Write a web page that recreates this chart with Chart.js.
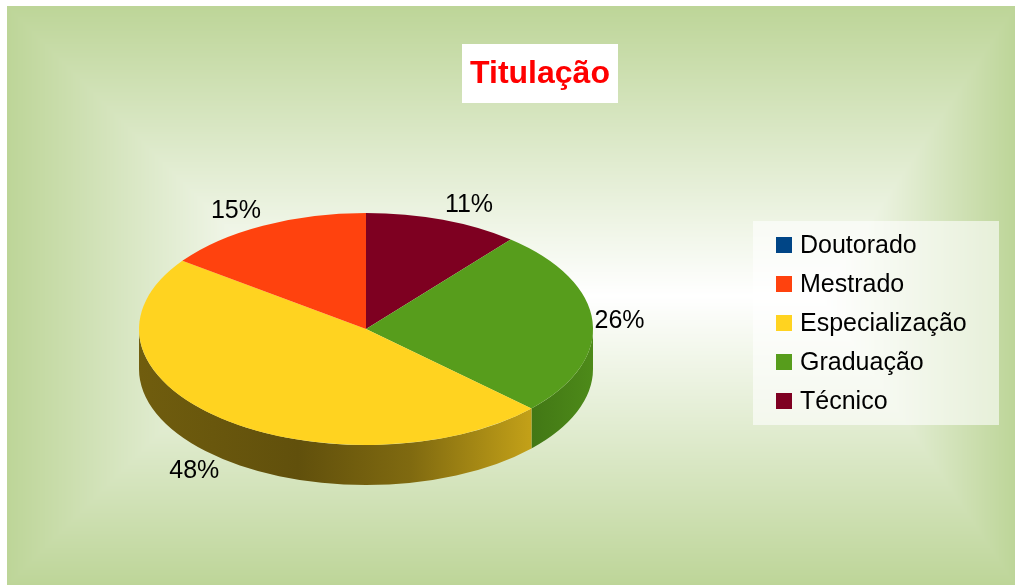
<!DOCTYPE html>
<html lang="pt">
<head>
<meta charset="utf-8">
<title>Titulação</title>
<script src="https://cdn.jsdelivr.net/npm/chart.js@4.4.1/dist/chart.umd.min.js"></script>
<style>
  html, body { margin: 0; padding: 0; background: #fff; }
  canvas { display: block; }
</style>
</head>
<body>
<canvas id="grafico" width="1015" height="585"></canvas>
<script>
// Dados (percentuais por titulação)
const categorias = ['Doutorado', 'Mestrado', 'Especialização', 'Graduação', 'Técnico'];
const percentuais = [0, 15, 48, 26, 11];
const cores = ['#004586', '#ff420e', '#ffd320', '#579d1c', '#7e0021'];
const titulo = 'Titulação';

// Aparência da pizza 3D
const ESCALA_Y = 116 / 227;   // achatamento da elipse
const PROFUNDIDADE = 40;      // altura da lateral
const FONTE = "'Liberation Sans', Arial, sans-serif";

// O LibreOffice desenha no sentido anti-horário; o Chart.js no horário,
// então a ordem é invertida para o dataset
const ordem = categorias.map((_, i) => i).reverse();

function escurecer(hex, f) {
    const n = parseInt(hex.slice(1), 16);
    const r = Math.round(((n >> 16) & 255) * f);
    const g = Math.round(((n >> 8) & 255) * f);
    const b = Math.round((n & 255) * f);
    return `rgb(${r},${g},${b})`;
}

// Fundo com gradiente retangular (verde nas bordas, branco no centro)
const fundo = {
    id: 'fundo',
    beforeDraw(chart) {
        const { ctx, width, height } = chart;
        const img = ctx.createImageData(width, height);
        const d = img.data;
        const borda = [189, 213, 152];
        for (let y = 0; y < height; y++) {
            for (let x = 0; x < width; x++) {
                const i = (y * width + x) * 4;
                d[i + 3] = 255;
                if (x < 7 || y < 6) {
                    d[i] = d[i + 1] = d[i + 2] = 255;
                    continue;
                }
                const ty = Math.abs(y - 295.5) / 289.5;
                let tx = 0;
                if (x < 296) tx = (296 - x) / 289;
                else if (x > 820) tx = (x - 820) / 195;
                const t = Math.min(1, Math.max(tx, ty));
                d[i] = 255 + (borda[0] - 255) * t;
                d[i + 1] = 255 + (borda[1] - 255) * t;
                d[i + 2] = 255 + (borda[2] - 255) * t;
            }
        }
        ctx.putImageData(img, 0, 0);
    }
};

// Lateral da pizza + achatamento do topo
const pizza3d = {
    id: 'pizza3d',
    beforeDatasetsDraw(chart) {
        const ctx = chart.ctx;
        const arcos = chart.getDatasetMeta(0).data;
        if (!arcos.length) return;
        const { x: cx, y: cy, outerRadius: R } = arcos[0].getProps(['x', 'y', 'outerRadius']);
        const ry = R * ESCALA_Y;

        arcos.forEach((arco, i) => {
            const { startAngle, endAngle } = arco.getProps(['startAngle', 'endAngle']);
            const lo = Math.max(startAngle, 0);
            const hi = Math.min(endAngle, Math.PI);
            if (hi <= lo) return;
            const cor = chart.data.datasets[0].backgroundColor[i];
            const grad = ctx.createLinearGradient(cx - R, 0, cx + R, 0);
            grad.addColorStop(0, escurecer(cor, 0.44));
            grad.addColorStop(0.35, escurecer(cor, 0.38));
            grad.addColorStop(0.6, escurecer(cor, 0.5));
            grad.addColorStop(0.86, escurecer(cor, 0.76));
            grad.addColorStop(1, escurecer(cor, 0.88));

            ctx.save();
            ctx.beginPath();
            ctx.ellipse(cx, cy, R, ry, 0, lo, hi);
            ctx.lineTo(cx + R * Math.cos(hi), cy + ry * Math.sin(hi) + PROFUNDIDADE);
            ctx.ellipse(cx, cy + PROFUNDIDADE, R, ry, 0, hi, lo, true);
            ctx.closePath();
            ctx.fillStyle = grad;
            ctx.fill();
            ctx.restore();
        });

        ctx.save();
        ctx.translate(0, cy);
        ctx.scale(1, ESCALA_Y);
        ctx.translate(0, -cy);
    },
    afterDatasetsDraw(chart) {
        chart.ctx.restore();
    }
};

// Rótulos de percentual, título e legenda
const textos = {
    id: 'textos',
    afterDraw(chart) {
        const ctx = chart.ctx;
        const ds = chart.data.datasets[0];
        const arcos = chart.getDatasetMeta(0).data;

        ctx.save();
        ctx.font = `25px ${FONTE}`;
        ctx.fillStyle = '#000';
        ctx.textAlign = 'center';
        ctx.textBaseline = 'middle';
        arcos.forEach((arco, i) => {
            const v = ds.data[i];
            if (!v) return;
            const p = arco.getProps(['x', 'y', 'startAngle', 'endAngle', 'outerRadius']);
            const m = (p.startAngle + p.endAngle) / 2;
            const c = Math.cos(m), s = Math.sin(m);
            const ax = p.x + p.outerRadius * c;
            const ay = p.y + p.outerRadius * ESCALA_Y * s + (s > 0 ? PROFUNDIDADE : 0);
            const txt = v + '%';
            const w = ctx.measureText(txt).width;
            ctx.fillText(txt, ax + Math.sign(c) * (w / 2 + 2), ay + s * 16);
        });
        ctx.restore();

        // título
        ctx.save();
        ctx.fillStyle = '#fff';
        ctx.fillRect(462, 44, 156, 59);
        ctx.font = `bold 32px ${FONTE}`;
        ctx.fillStyle = '#ff0000';
        ctx.textAlign = 'center';
        ctx.textBaseline = 'middle';
        ctx.fillText(titulo, 540, 74);
        ctx.restore();

        // legenda
        ctx.save();
        ctx.fillStyle = 'rgba(255,255,255,0.6)';
        ctx.fillRect(753, 221, 246, 204);
        ctx.font = `25px ${FONTE}`;
        ctx.textBaseline = 'middle';
        const n = chart.data.labels.length;
        for (let k = 0; k < n; k++) {
            const i = n - 1 - k;
            const y = 245 + k * 39;
            ctx.fillStyle = ds.backgroundColor[i];
            ctx.fillRect(776, y - 8, 16, 16);
            ctx.fillStyle = '#000';
            ctx.fillText(chart.data.labels[i], 800, y + 1);
        }
        ctx.restore();
    }
};

new Chart(document.getElementById('grafico'), {
    type: 'pie',
    data: {
        labels: ordem.map(i => categorias[i]),
        datasets: [{
            data: ordem.map(i => percentuais[i]),
            backgroundColor: ordem.map(i => cores[i]),
            borderWidth: 0,
            clip: false
        }]
    },
    options: {
        responsive: false,
        devicePixelRatio: 1,
        animation: false,
        events: [],
        layout: { padding: { left: 139, right: 422, top: 102, bottom: 29 } },
        plugins: {
            legend: { display: false },
            title: { display: false },
            tooltip: { enabled: false }
        }
    },
    plugins: [fundo, pizza3d, textos]
});
</script>
</body>
</html>
